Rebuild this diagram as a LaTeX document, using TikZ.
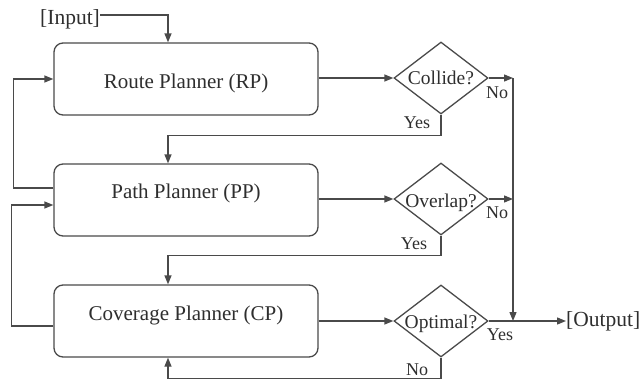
\documentclass[tikz,border=0pt]{standalone}
\usepackage{fontspec}
\setmainfont{Liberation Serif}
\usetikzlibrary{arrows.meta,shapes.geometric,calc}
\definecolor{ln}{HTML}{4A4A4A}
\definecolor{tx}{HTML}{2E2E2E}
\newcommand{\boxtxt}[2]{\raisebox{#1}[0pt][0pt]{#2}}
\tikzset{
  planner/.style={draw=ln,line width=1.3pt,rounded corners=9pt,minimum width=264pt,minimum height=72pt,inner sep=0pt,font=\fontsize{21}{23}\selectfont,text=tx},
  decide/.style={draw=ln,line width=1.3pt,diamond,inner sep=0pt,minimum width=94pt,minimum height=72pt,shape aspect=1.3,font=\fontsize{19.5}{21}\selectfont,text=tx},
  io/.style={inner sep=0pt,font=\fontsize{21.5}{23}\selectfont,text=tx},
  lab/.style={inner sep=0pt,font=\fontsize{18}{20}\selectfont,text=tx},
  conn/.style={draw=ln,line width=1.3pt},
  arr/.style={conn,-{Triangle[length=9pt,width=7pt]}},
}
\begin{document}
\begin{tikzpicture}[x=1pt,y=-1pt]
\useasboundingbox (0,0) rectangle (639,381);
\node[planner] (rp) at (186,79) {\boxtxt{-9pt}{Route Planner (RP)}};
\node[planner] (pp) at (186,200) {\boxtxt{2pt}{Path Planner (PP)}};
\node[planner] (cp) at (186,321) {\boxtxt{1pt}{Coverage Planner (CP)}};
\node[decide] (c1) at (441,78) {\boxtxt{-6pt}{\makebox[0pt]{Collide?}}};
\node[decide] (c2) at (441,199) {\boxtxt{-8pt}{\makebox[0pt]{Overlap?}}};
\node[decide] (c3) at (441,321) {\boxtxt{-7pt}{\makebox[0pt]{Optimal?}}};
\node[io,anchor=west] (in) at (40,19) {[Input]};
\node[io,anchor=west] (out) at (566,321) {[Output]};
\coordinate (n1) at (513,78);
\coordinate (n2) at (513,199);
\coordinate (n3) at (513,321);
% input
\draw[arr] ([yshift=4pt]in.east) -| ([xshift=-18pt]rp.north);
% forward
\draw[arr] (rp.east |- c1.west) -- (c1.west);
\draw[arr] (pp.east |- c2.west) -- (c2.west);
\draw[arr] (cp.east |- c3.west) -- (c3.west);
% no branches
\draw[arr] (c1.east) -- (n1);
\draw[arr] (c2.east) -- (n2);
\draw[conn] (n1) -- (n2);
\draw[arr] (n2) -- (n3);
\draw[arr] (c3.east) -- (out.west);
% yes branches
\draw[arr] (c1.south) |- ++(0,21) -| ([xshift=-18pt]pp.north);
\draw[arr] (c2.south) |- ++(0,20) -| ([xshift=-18pt]cp.north);
\draw[arr] (c3.south) |- ++(0,21) -| ([xshift=-18pt]cp.south);
% feedback loops
\draw[arr] ([yshift=12pt]pp.west) -- ++(-40,0) |- (rp.west);
\draw[arr] ([yshift=-5pt]cp.west) -- ++(-42,0) |- ([yshift=-5pt]pp.west);
% labels
\node[lab] (l1n) at (497,93) {No};
\node[lab] (l1y) at (417,123) {Yes};
\node[lab] (l2n) at (497,213) {No};
\node[lab] (l2y) at (414,244) {Yes};
\node[lab] (l3y) at (500,335) {Yes};
\node[lab] (l3n) at (417,370) {No};
\end{tikzpicture}
\end{document}
